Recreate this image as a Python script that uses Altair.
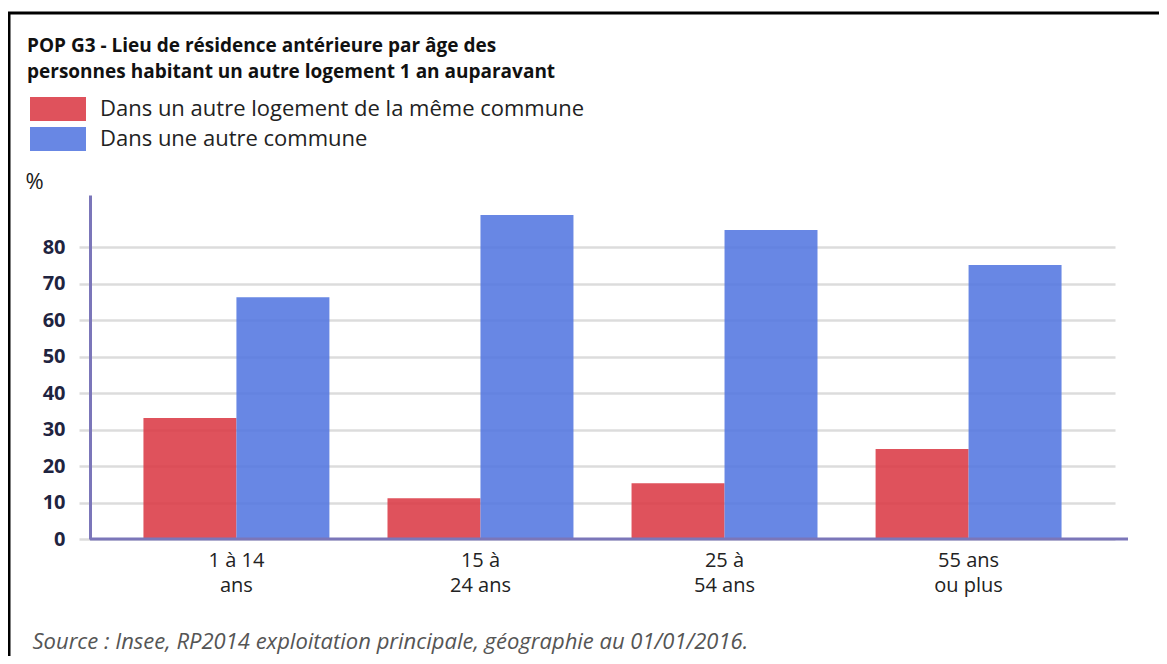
import altair as alt
import pandas as pd

# ---- data ----
ages = ["1 à 14\nans", "15 à\n24 ans", "25 à\n54 ans", "55 ans\nou plus"]
series = ["Dans un autre logement de la même commune", "Dans une autre commune"]
meme_commune = [33.2, 11.2, 15.3, 24.7]
autre_commune = [66.3, 88.8, 84.7, 75.1]
y_ticks = [0, 10, 20, 30, 40, 50, 60, 70, 80]
title_lines = [
    "POP G3 - Lieu de résidence antérieure par âge des",
    "personnes habitant un autre logement 1 an auparavant",
]
source_text = "Source : Insee, RP2014 exploitation principale, géographie au 01/01/2016."
colors = ["#DB3A46", "#5376E0"]

rows = []
for i, a in enumerate(ages):
    rows.append({"age": a, "serie": series[0], "valeur": meme_commune[i]})
    rows.append({"age": a, "serie": series[1], "valeur": autre_commune[i]})
df = pd.DataFrame(rows)

FONT = "Open Sans"
W, H = 1025, 344
PAD = {"left": 82, "top": 187, "right": 44, "bottom": 117}
# wide swatch drawn around a small nominal symbol (24 px tall, 56 px wide)
legend_shape = "M-2.333,-1L2.333,-1L2.333,1L-2.333,1Z"

bars = alt.Chart(df).mark_bar(opacity=0.88).encode(
    x=alt.X(
        "age:N",
        sort=ages,
        scale=alt.Scale(paddingInner=0.238, paddingOuter=0.219),
        axis=alt.Axis(
            title=source_text,
            labelExpr="split(datum.label, '\\n')",
            labelAngle=0,
            labelFont=FONT,
            labelFontSize=20,
            labelColor="#222222",
            labelPadding=11,
            labelLineHeight=25,
            labelBaseline="top",
            domain=False,
            ticks=False,
            grid=False,
            titleFont=FONT,
            titleFontSize=22,
            titleFontStyle="italic",
            titleFontWeight="normal",
            titleColor="#555555",
            titleAlign="left",
            titleAnchor="start",
            titleBaseline="alphabetic",
            titleX=-58,
            titleY=109,
        ),
    ),
    xOffset=alt.XOffset(
        "serie:N", sort=series, scale=alt.Scale(paddingInner=0, paddingOuter=0)
    ),
    y=alt.Y(
        "valeur:Q",
        scale=alt.Scale(domain=[0, 94.3], nice=False, zero=True),
        axis=alt.Axis(
            values=y_ticks,
            title="%",
            titleAngle=0,
            titleX=-65,
            titleY=-7,
            titleAlign="left",
            titleBaseline="alphabetic",
            titleFont=FONT,
            titleFontSize=22,
            titleFontWeight="normal",
            titleColor="#1a1a1a",
            labelFont=FONT,
            labelFontSize=20,
            labelFontWeight="bold",
            labelColor="#1f2440",
            labelPadding=14,
            domainColor="#7b76b9",
            domainWidth=3,
            grid=True,
            gridColor="#dcdcdc",
            gridWidth=2.5,
            tickColor="#dcdcdc",
            tickWidth=2.5,
            tickSize=11,
        ),
    ),
    color=alt.Color(
        "serie:N",
        sort=series,
        scale=alt.Scale(domain=series, range=colors),
        legend=alt.Legend(
            title=None,
            orient="none",
            legendX=-44,
            legendY=-98,
            padding=0,
            symbolType=legend_shape,
            symbolSize=576,
            symbolOpacity=0.88,
            symbolStrokeWidth=0,
            labelFont=FONT,
            labelFontSize=22,
            labelColor="#222222",
            labelOffset=30,
            rowPadding=6,
            labelLimit=800,
        ),
    ),
)

xaxis_line = alt.Chart(pd.DataFrame({"v": [0]})).mark_rule(
    color="#7b76b9", strokeWidth=3
).encode(y=alt.datum(0), x=alt.value(0), x2=alt.value(1038))

frame_top = alt.Chart(pd.DataFrame({"v": [0]})).mark_rule(
    color="#000000", strokeWidth=3
).encode(y=alt.value(-182), x=alt.value(-82), x2=alt.value(1069))

frame_left = alt.Chart(pd.DataFrame({"v": [0]})).mark_rule(
    color="#000000", strokeWidth=3
).encode(x=alt.value(-81), y=alt.value(-182), y2=alt.value(461))

chart = alt.layer(bars, xaxis_line, frame_top, frame_left).properties(
    width=W,
    height=H,
    padding=PAD,
    autosize=alt.AutoSizeParams(type="none"),
    title=alt.Title(
        text=title_lines,
        anchor="start",
        frame="group",
        dx=-63,
        dy=70,
        offset=0,
        font=FONT,
        fontSize=19,
        fontWeight="bold",
        color="#111111",
        lineHeight=26,
    ),
).configure_view(stroke=None)

chart.save("out.html", embed_options={"renderer": "svg", "actions": False})
